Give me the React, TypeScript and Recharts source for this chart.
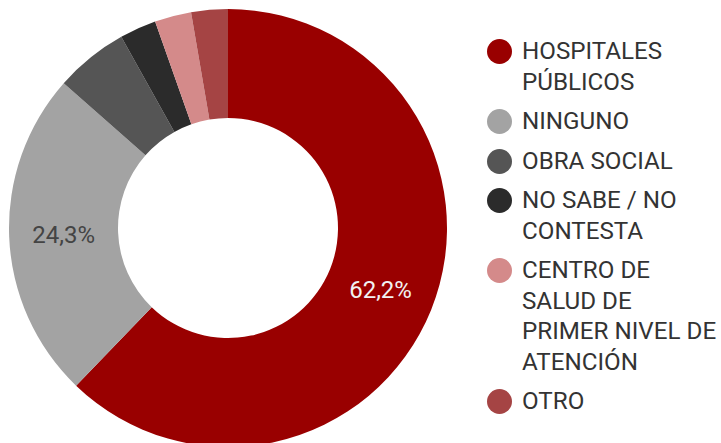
import React from "react";
import { PieChart, Pie, Cell } from "recharts";

const categories = [
  "HOSPITALES\nPÚBLICOS",
  "NINGUNO",
  "OBRA SOCIAL",
  "NO SABE / NO\nCONTESTA",
  "CENTRO DE\nSALUD DE\nPRIMER NIVEL DE\nATENCIÓN",
  "OTRO",
];
const values = [62.2, 24.3, 5.4, 2.7, 2.7, 2.7];
const colors = ["#990000", "#a3a3a3", "#555555", "#2b2b2b", "#d48a8a", "#a54444"];
const labelColors = ["#f2f2f2", "#444444", "#ffffff", "#ffffff", "#ffffff", "#ffffff"];

const data = categories.map((name, i) => ({ name, value: values[i] }));

const RADIAN = Math.PI / 180;

const renderLabel = (props: any) => {
  const { cx, cy, midAngle, innerRadius, outerRadius, index, value } = props;
  if (value < 10) return null;
  const r = (innerRadius + outerRadius) / 2;
  const x = cx + r * Math.cos(-midAngle * RADIAN);
  const y = cy + r * Math.sin(-midAngle * RADIAN);
  return (
    <text
      x={x}
      y={y}
      fill={labelColors[index]}
      textAnchor="middle"
      dominantBaseline="central"
      fontFamily="Roboto, sans-serif"
      fontSize={24}
    >
      {value.toFixed(1).replace(".", ",") + "%"}
    </text>
  );
};

export default function App() {
  return (
    <div style={{ position: "absolute", left: 0, top: 0, width: 721, height: 443, background: "#fff" }}>
      <PieChart width={721} height={443} margin={{ top: 0, right: 0, bottom: 0, left: 0 }}>
        <Pie
          data={data}
          dataKey="value"
          nameKey="name"
          cx={228}
          cy={228}
          innerRadius={110}
          outerRadius={219}
          startAngle={90}
          endAngle={-270}
          stroke="none"
          label={renderLabel}
          labelLine={false}
          isAnimationActive={false}
        >
          {data.map((d, i) => (
            <Cell key={i} fill={colors[i]} />
          ))}
        </Pie>
      </PieChart>
      <div
        style={{
          position: "absolute",
          left: 487,
          top: 36,
          fontFamily: "Roboto, sans-serif",
          fontSize: 24.2,
          color: "#333333",
        }}
      >
        {data.map((d, i) => (
          <div key={i} style={{ display: "flex", alignItems: "flex-start", marginBottom: 9 }}>
            <div
              style={{
                width: 25,
                height: 25,
                borderRadius: "50%",
                background: colors[i],
                marginTop: 3,
                flexShrink: 0,
              }}
            />
            <div style={{ marginLeft: 10, lineHeight: "30.5px", whiteSpace: "pre" }}>{d.name}</div>
          </div>
        ))}
      </div>
    </div>
  );
}
